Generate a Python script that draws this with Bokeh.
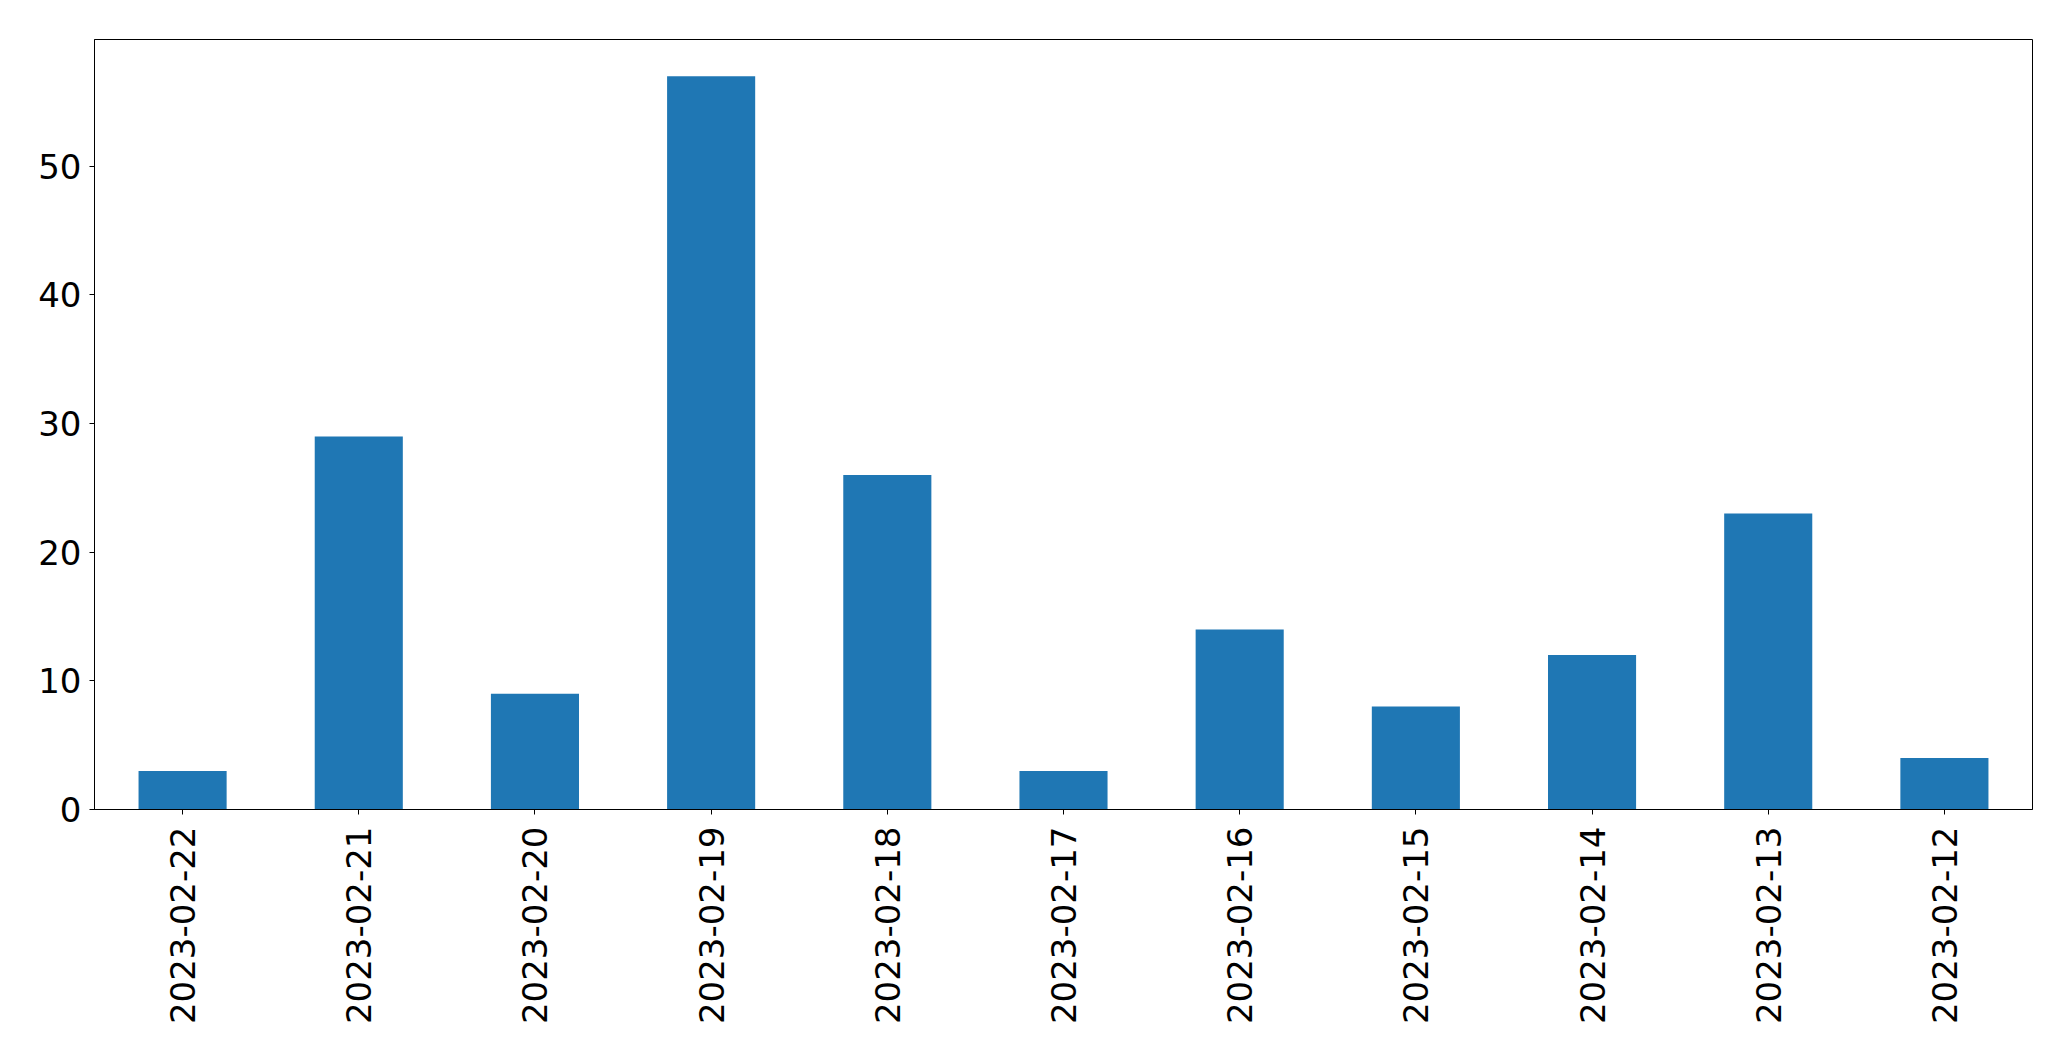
import math
from bokeh.plotting import figure
from bokeh.models import FactorRange, Range1d, FixedTicker, ColumnDataSource
from bokeh.embed import file_html
from bokeh.resources import INLINE

dates = ["2023-02-22", "2023-02-21", "2023-02-20", "2023-02-19", "2023-02-18",
         "2023-02-17", "2023-02-16", "2023-02-15", "2023-02-14", "2023-02-13",
         "2023-02-12"]
counts = [3, 29, 9, 57, 26, 3, 14, 8, 12, 23, 4]
y_ticks = [0, 10, 20, 30, 40, 50]

src = ColumnDataSource(dict(x=dates, top=counts))

p = figure(width=2055, height=1045, output_backend="svg", toolbar_location=None,
           x_range=FactorRange(factors=dates), y_range=Range1d(0, max(counts) * 1.05))
p.min_border_left = 94
p.min_border_right = 23
p.min_border_top = 39
p.min_border_bottom = 236

p.vbar(x="x", top="top", bottom=0, width=0.5, source=src,
       fill_color="#1f77b4", line_color=None)

p.xgrid.visible = False
p.ygrid.visible = False
p.outline_line_color = "black"
p.outline_line_width = 1
p.outline_line_alpha = 1

for ax in (p.xaxis[0], p.yaxis[0]):
    ax.major_label_text_font = "DejaVu Sans"
    ax.major_label_text_font_size = "34px"
    ax.major_label_text_color = "black"
    ax.axis_line_color = "black"
    ax.major_tick_line_color = "black"
    ax.major_tick_out = 5
    ax.major_tick_in = 0
    ax.minor_tick_out = 0
    ax.minor_tick_in = 0

p.yaxis[0].ticker = FixedTicker(ticks=y_ticks)
p.yaxis[0].major_label_standoff = 8
p.xaxis[0].major_label_orientation = math.pi / 2
p.xaxis[0].major_label_standoff = 12

open("out.html", "w").write(file_html(p, INLINE))
